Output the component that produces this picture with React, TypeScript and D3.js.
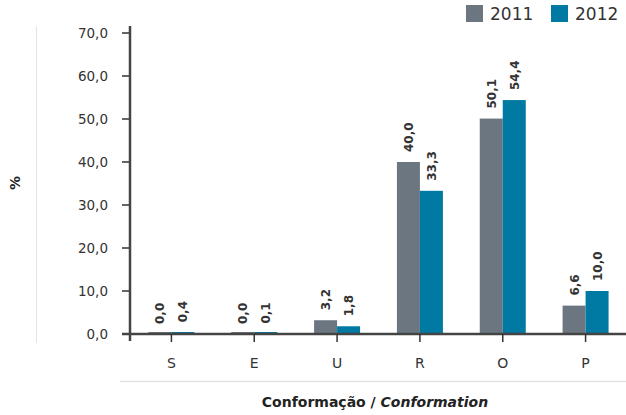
import React from "react";
import * as d3 from "d3";

const categories = ["S", "E", "U", "R", "O", "P"];
const series2011 = [0.0, 0.0, 3.2, 40.0, 50.1, 6.6];
const series2012 = [0.4, 0.1, 1.8, 33.3, 54.4, 10.0];
const seriesNames = ["2011", "2012"];
const colors = ["#6b7680", "#007aa3"];
const yTicks = [0, 10, 20, 30, 40, 50, 60, 70];

const W = 626;
const H = 415;
const FONT = "'DejaVu Sans', sans-serif";

export default function App() {
  const x = d3.scaleBand<string>().domain(categories).range([130, 627]).padding(0);
  const y = d3.scaleLinear().domain([0, 70]).range([334, 33]);
  const fmt = (v: number) => v.toFixed(1).replace(".", ",");
  const barW = 23;
  const data = [series2011, series2012];

  return (
    <svg width={W} height={H} style={{ position: "absolute", left: 0, top: 0, background: "#fff" }}>
      {/* light frame lines */}
      <line x1={36.5} x2={36.5} y1={26} y2={343} stroke="#e3e3e3" strokeWidth={1} />
      <line x1={120} x2={626} y1={381.5} y2={381.5} stroke="#e3e3e3" strokeWidth={1.5} />

      {/* y ticks */}
      {yTicks.map((t) => (
        <g key={t}>
          <line x1={122} x2={130} y1={y(t)} y2={y(t)} stroke="#333" strokeWidth={1.5} />
          <text x={108} y={y(t)} dy="0.35em" textAnchor="end" fontFamily={FONT} fontSize={13.5} fill="#333">
            {fmt(t)}
          </text>
        </g>
      ))}

      {/* bars */}
      {categories.map((c, i) => {
        const cx = (x(c) as number) + x.bandwidth() / 2;
        return data.map((s, k) => {
          const v = s[i];
          const top = Math.min(y(v), y(0) - 2);
          const bx = cx + (k === 0 ? -barW : 0);
          const lx = bx + barW / 2;
          const ly = y(v) - 10;
          return (
            <g key={c + k}>
              <rect x={bx} y={top} width={barW} height={y(0) - top} fill={colors[k]} />
              <text
                transform={`translate(${lx + 4.5},${ly}) rotate(-90)`}
                fontFamily={FONT}
                fontSize={12}
                fontWeight="bold"
                fill="#333"
              >
                {fmt(v)}
              </text>
            </g>
          );
        });
      })}

      {/* axes */}
      <line x1={130} x2={130} y1={26} y2={341} stroke="#444" strokeWidth={2.5} />
      <line x1={122} x2={626} y1={334} y2={334} stroke="#444" strokeWidth={2.5} />
      {categories.map((c) => {
        const cx = (x(c) as number) + x.bandwidth() / 2;
        return (
          <g key={c}>
            <line x1={cx} x2={cx} y1={334} y2={342} stroke="#333" strokeWidth={1.5} />
            <text x={cx} y={363} dy="0.35em" textAnchor="middle" fontFamily={FONT} fontSize={14} fill="#333">
              {c}
            </text>
          </g>
        );
      })}

      {/* axis titles */}
      <text x={375} y={402} dy="0.35em" textAnchor="middle" fontFamily={FONT} fontSize={14} fontWeight="bold" fill="#222">
        Conformação / <tspan fontStyle="italic">Conformation</tspan>
      </text>
      <text transform="translate(20,183) rotate(-90)" textAnchor="middle" fontFamily={FONT} fontSize={14} fontWeight="bold" fill="#222">
        %
      </text>

      {/* legend */}
      {seriesNames.map((n, k) => (
        <g key={n} transform={`translate(${466 + k * 85},5)`}>
          <rect x={0} y={0} width={17} height={17} fill={colors[k]} />
          <text x={24} y={9} dy="0.35em" fontFamily={FONT} fontSize={17} fill="#333">
            {n}
          </text>
        </g>
      ))}
    </svg>
  );
}
